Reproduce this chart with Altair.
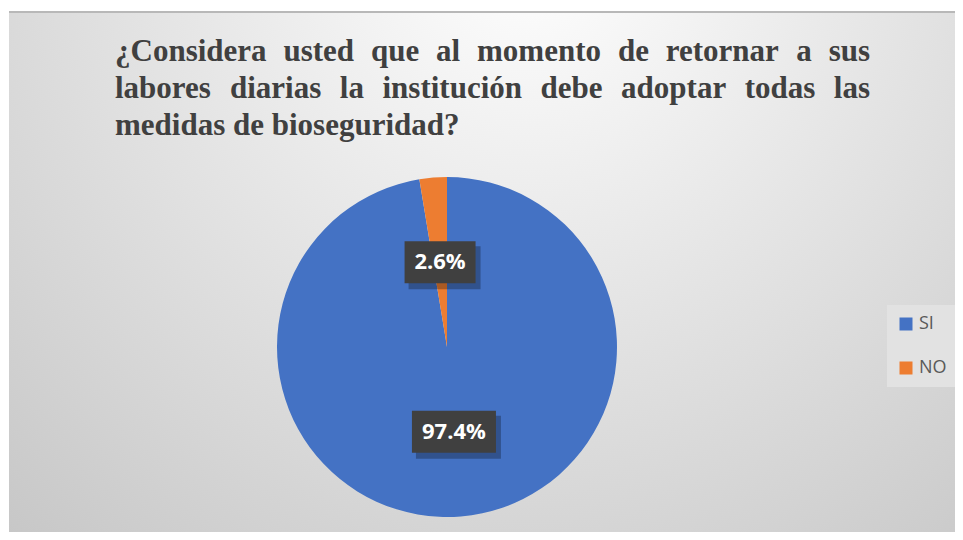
import altair as alt
import pandas as pd

categories = ["SI", "NO"]
values = [97.4, 2.6]
labels = ["97.4%", "2.6%"]
colors = ["#4472C4", "#ED7D31"]
title_lines = [
    "¿Considera usted que al momento de retornar a sus",
    "labores diarias la institución debe adoptar todas las",
    "medidas de bioseguridad?",
]

W, H = 947, 524
CX, CY, R, LR = 439, 339, 170, 85

# --- justified title layout (Times/Liberation Serif Bold advance widths, 1/1000 em)
AFM = {"a": 500, "b": 556, "c": 444, "d": 556, "e": 444, "f": 333, "g": 500, "h": 556,
       "i": 278, "j": 333, "k": 556, "l": 278, "m": 833, "n": 556, "o": 500, "p": 556,
       "q": 556, "r": 444, "s": 389, "t": 333, "u": 556, "v": 500, "w": 722, "x": 500,
       "y": 500, "z": 444, "C": 722, "?": 500, "¿": 500, "ó": 500, " ": 250}
FS, LH, TX0, TX1, TY0 = 31, 37, 107, 862, 53
rows = []
for li, line in enumerate(title_lines):
    words = line.split(" ")
    wid = [sum(AFM.get(c, 500) for c in w) * FS / 1000 for w in words]
    if li < len(title_lines) - 1 and len(words) > 1:
        gap = (TX1 - TX0 - sum(wid)) / (len(words) - 1)
    else:
        gap = AFM[" "] * FS / 1000
    x = TX0
    for w, ww in zip(words, wid):
        rows.append({"word": w, "x": x, "y": TY0 + li * LH})
        x += ww + gap
title_df = pd.DataFrame(rows)

df = pd.DataFrame({"cat": categories, "val": values, "lab": labels, "ord": list(range(len(categories)))})

bg = alt.Chart(pd.DataFrame({"a": [0]})).mark_rect(
    color=alt.RadialGradient(
        gradient="radial", x1=0.55, y1=0.15, r1=0, x2=0.55, y2=0.15, r2=0.85,
        stops=[alt.GradientStop(offset=0, color="#ffffff"),
               alt.GradientStop(offset=1, color="#c6c6c6")]
    )
).encode(x=alt.value(1), x2=alt.value(W), y=alt.value(4), y2=alt.value(H))

border = alt.Chart(pd.DataFrame({"a": [0]})).mark_rule(color="#b8b8b8", strokeWidth=2).encode(
    x=alt.value(1), x2=alt.value(W), y=alt.value(4)
)

title = alt.Chart(title_df).mark_text(
    align="left", baseline="alphabetic", font="Liberation Serif", fontWeight="bold",
    fontSize=FS, color="#404040"
).encode(x=alt.X("x:Q", scale=None), y=alt.Y("y:Q", scale=None), text="word:N")

base = alt.Chart(df)

pie = base.mark_arc(radius=R).encode(
    theta=alt.Theta("val:Q", stack=True),
    color=alt.Color("cat:N", scale=alt.Scale(domain=categories, range=colors),
                    sort=categories,
                    legend=alt.Legend(orient="none", legendX=879, legendY=297, title=None,
                                      symbolType="square", symbolSize=169, symbolStrokeWidth=0,
                                      labelFontSize=18, labelFont="Open Sans", labelColor="#595959",
                                      rowPadding=26, padding=10, fillColor="#e2e2e2",
                                      labelOffset=4)),
    order=alt.Order("ord:Q"),
    x=alt.value(CX), y=alt.value(CY),
)

lab = base.transform_joinaggregate(total="sum(val)").transform_window(
    cum="sum(val)", sort=[alt.SortField("ord")]
).transform_calculate(
    mid="(datum.cum - datum.val/2) / datum.total * 2 * PI",
).transform_calculate(
    lx=f"{CX} + {LR} * sin(datum.mid)",
    ly=f"{CY} - {LR} * cos(datum.mid)",
    w="13 * length(datum.lab) + 19",
).transform_calculate(
    x1="datum.lx - datum.w/2", x2="datum.lx + datum.w/2",
    y1="datum.ly - 21", y2="datum.ly + 21",
    sx1="datum.lx - datum.w/2 + 4", sx2="datum.lx + datum.w/2 + 5",
    sy1="datum.ly - 21 + 5", sy2="datum.ly + 21 + 6",
)

shadow = lab.mark_rect(color="#000000", opacity=0.28).encode(
    x=alt.X("sx1:Q", scale=None), x2="sx2:Q",
    y=alt.Y("sy1:Q", scale=None), y2="sy2:Q",
)
box = lab.mark_rect(color="#404040").encode(
    x=alt.X("x1:Q", scale=None), x2="x2:Q",
    y=alt.Y("y1:Q", scale=None), y2="y2:Q",
)
txt = lab.mark_text(color="#ffffff", font="Open Sans", fontWeight="bold", fontSize=22,
                    align="center", baseline="middle").encode(
    x=alt.X("lx:Q", scale=None), y=alt.Y("ly:Q", scale=None), text="lab:N"
)

chart = alt.layer(bg, border, title, pie, shadow, box, txt).properties(
    width=W, height=H, padding=0, autosize=alt.AutoSizeParams(type="none")
).configure_view(stroke=None)

chart.save("out.html", embed_options={"renderer": "svg", "actions": False})
